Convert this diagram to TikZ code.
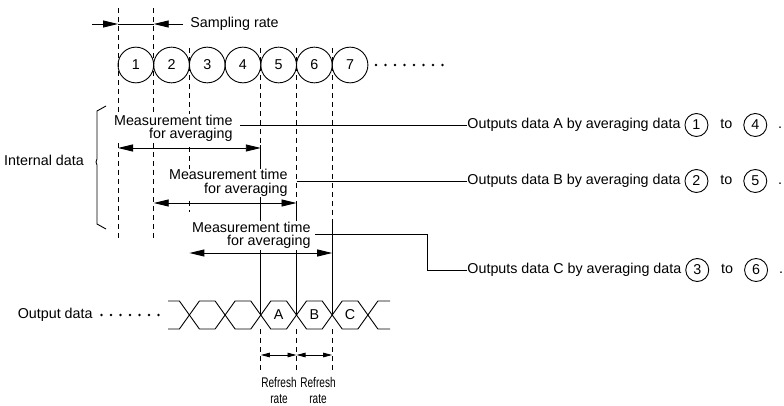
\documentclass[tikz,border=0pt]{standalone}
\usepackage{fontspec}
\setmainfont{Liberation Sans}
\usetikzlibrary{arrows.meta,positioning}

\tikzset{
  guide/.style={line width=0.9pt, dash pattern=on 5pt off 4pt},
  measure/.style={line width=0.9pt, {Triangle[length=15pt,width=7pt]}-{Triangle[length=15pt,width=7pt]}},
  refresh/.style={line width=0.9pt, {Triangle[length=9pt,width=4.5pt]}-{Triangle[length=9pt,width=4.5pt]}},
  datacirc/.style={circle, draw, line width=0.9pt, minimum size=35.7pt, inner sep=0pt, outer sep=0pt},
  numc/.style={circle, draw, line width=0.9pt, minimum size=23pt, inner sep=0pt, outer sep=0pt},
  txt/.style={inner sep=0pt, text height=10.3pt, text depth=3pt},
  mtime/.style={fill=white, align=right, inner sep=1pt, anchor=east},
}

\begin{document}
\begin{tikzpicture}[x=1pt,y=-1pt,line width=0.9pt,font=\fontsize{14.3pt}{13.5pt}\selectfont]
\useasboundingbox (0,0) rectangle (784,406);

% sampled data
\foreach \i in {1,...,7}
  \node[datacirc] (s\i) at ({135.85+35.7*(\i-1)},65) {\i};
\foreach \i in {0,...,7}
  \fill ({376+9.5*\i},65) circle [radius=1.4];

% sampling rate
\node[txt, anchor=west] (srate) at (190,24) {Sampling rate};
\draw[-{Triangle[length=15pt,width=7pt]}] (92,24) -- (s1.west |- srate);
\draw (s1.west |- srate) -- (s2.west |- srate);
\draw[-{Triangle[length=15pt,width=7pt]}] (183,24) -- (s2.west |- srate);

% guide lines
\draw[guide] (s1.west |- 0,8) -- (s1.west |- 0,240);
\draw[guide] (s2.west |- 0,8) -- (s2.west |- 0,240);
\draw[guide] (s3.west |- 0,48) -- (s3.west |- 0,212);
\draw[guide] (s5.west |- 0,48) -- (s5.west |- 0,145);
\draw[guide] (s6.west |- 0,48) -- (s6.west |- 0,205);
\draw[guide] (s7.west |- 0,48) -- (s7.west |- 0,222);

\draw (s5.west |- 0,145) -- (s5.west |- 0,315);
\draw (s6.west |- 0,205) -- (s6.west |- 0,315);
\draw (s7.west |- 0,222) -- (s7.west |- 0,315);

% internal data
\node[txt] (intd) at (44,162) {Internal data};
\draw (106,106) -- (97,111) -- (97,159) -- (96,162) -- (97,165) -- (97,224) -- (106,229);

% measurement times
\node[mtime] (m1) at (234,128.5) {Measurement time\\for averaging};
\node[mtime] (m2) at (289,183) {Measurement time\\for averaging};
\node[mtime] (m3) at (312,235.5) {Measurement time\\for averaging};

\draw[measure] (s1.west |- 0,148) -- (s5.west |- 0,148);
\draw[measure] (s2.west |- 0,203) -- (s6.west |- 0,203);
\draw[measure] (s3.west |- 0,253) -- (s7.west |- 0,253);

% outputs
\node[txt, anchor=west] (oA) at (467,125) {Outputs data A by averaging data};
\node[numc, right=4pt of oA] (oA1) {1};
\node[txt, right=12pt of oA1] (oAto) {to};
\node[numc, right=11pt of oAto] (oA2) {4};
\node[txt, right=11pt of oA2] (oAdot) {.};

\node[txt, anchor=west] (oB) at (467,181) {Outputs data B by averaging data};
\node[numc, right=4pt of oB] (oB1) {2};
\node[txt, right=12pt of oB1] (oBto) {to};
\node[numc, right=11pt of oBto] (oB2) {5};
\node[txt, right=11pt of oB2] (oBdot) {.};

\node[txt, anchor=west] (oC) at (467,270) {Outputs data C by averaging data};
\node[numc, right=4pt of oC] (oC1) {3};
\node[txt, right=12pt of oC1] (oCto) {to};
\node[numc, right=11pt of oCto] (oC2) {6};
\node[txt, right=11pt of oC2] (oCdot) {.};

\draw (240,125) -- (oA.west);
\draw (s6.west |- oB.west) -- (oB.west);
\draw (315,234) -- (427,234) |- (oC.west);

% output data
\node[txt, anchor=east] (odat) at (93,315) {Output data};
\foreach \i in {0,...,6}
  \fill ({101.5+9.5*\i},315) circle [radius=1.4];

\draw (168,301) -- (179.4,301) -- (199.4,329) -- (215.1,329) -- (235.1,301) -- (250.8,301) -- (270.8,329) -- (286.5,329)
  -- (306.5,301) -- (322.2,301) -- (342.2,329) -- (357.9,329) -- (377.9,301) -- (390,301);
\draw (168,329) -- (179.4,329) -- (199.4,301) -- (215.1,301) -- (235.1,329) -- (250.8,329) -- (270.8,301) -- (286.5,301)
  -- (306.5,329) -- (322.2,329) -- (342.2,301) -- (357.9,301) -- (377.9,329) -- (390,329);

\node (dA) at (s5 |- 0,315) {A};
\node (dB) at (s6 |- 0,315) {B};
\node (dC) at (s7 |- 0,315) {C};

% refresh rate
\draw[guide] (s5.west |- 0,329) -- (s5.west |- 0,372);
\draw[guide] (s6.west |- 0,329) -- (s6.west |- 0,372);
\draw[guide] (s7.west |- 0,329) -- (s7.west |- 0,372);
\draw[refresh] (s5.west |- 0,355) -- (s6.west |- 0,355);
\draw[refresh] (s6.west |- 0,355) -- (s7.west |- 0,355);

\node[xscale=0.72, align=center, inner sep=0pt, font=\fontsize{14pt}{16pt}\selectfont] (r1) at (279,390) {Refresh\\rate};
\node[xscale=0.72, align=center, inner sep=0pt, font=\fontsize{14pt}{16pt}\selectfont] (r2) at (318,390) {Refresh\\rate};
\end{tikzpicture}
\end{document}
